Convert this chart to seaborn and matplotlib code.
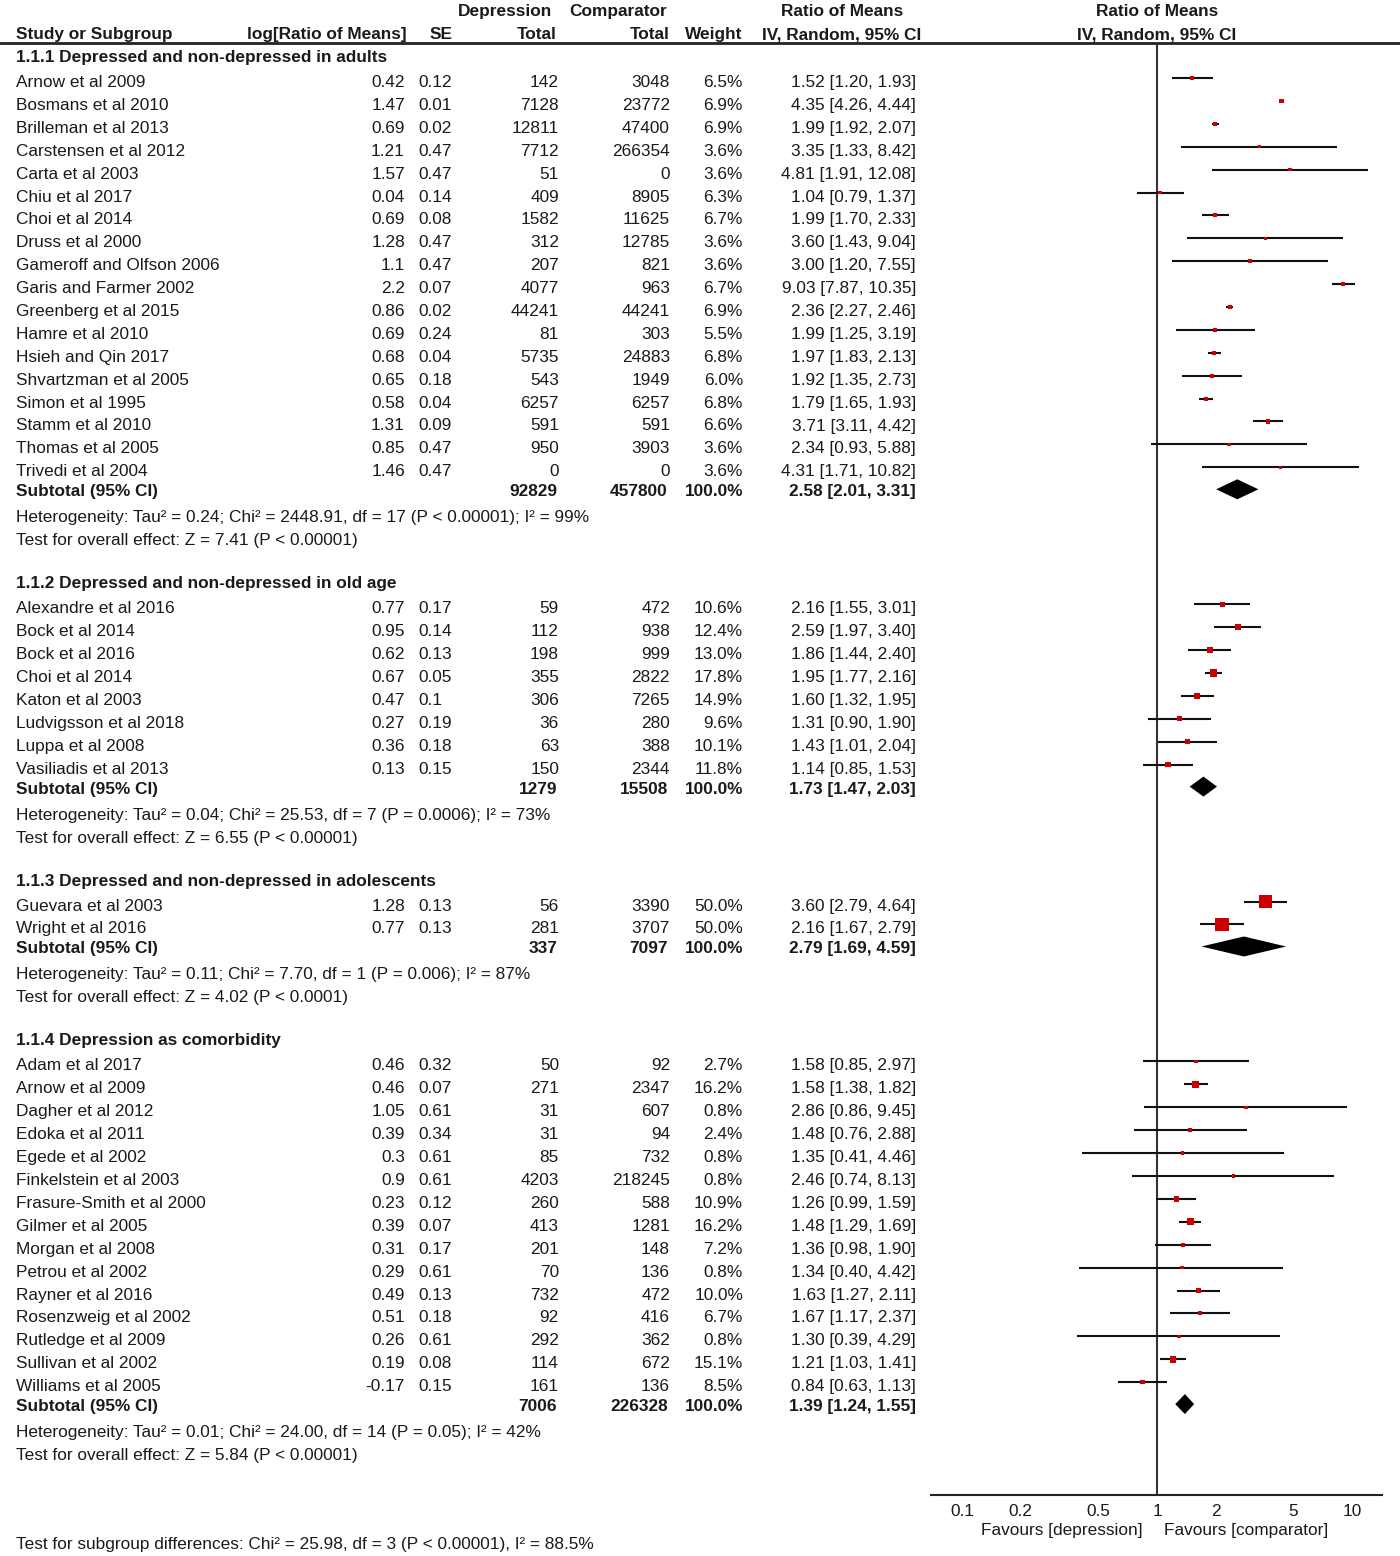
import numpy as np
import pandas as pd
import matplotlib
matplotlib.use("Agg")
import matplotlib.pyplot as plt
import seaborn as sns

# ---- data ----
group_titles = [
    "1.1.1 Depressed and non-depressed in adults",
    "1.1.2 Depressed and non-depressed in old age",
    "1.1.3 Depressed and non-depressed in adolescents",
    "1.1.4 Depression as comorbidity",
]
group_sizes = [18, 8, 2, 15]

studies = [
    "Arnow et al 2009", "Bosmans et al 2010", "Brilleman et al 2013", "Carstensen et al 2012",
    "Carta et al 2003", "Chiu et al 2017", "Choi et al 2014", "Druss et al 2000",
    "Gameroff and Olfson 2006", "Garis and Farmer 2002", "Greenberg et al 2015", "Hamre et al 2010",
    "Hsieh and Qin 2017", "Shvartzman et al 2005", "Simon et al 1995", "Stamm et al 2010",
    "Thomas et al 2005", "Trivedi et al 2004",
    "Alexandre et al 2016", "Bock et al 2014", "Bock et al 2016", "Choi et al 2014",
    "Katon et al 2003", "Ludvigsson et al 2018", "Luppa et al 2008", "Vasiliadis et al 2013",
    "Guevara et al 2003", "Wright et al 2016",
    "Adam et al 2017", "Arnow et al 2009", "Dagher et al 2012", "Edoka et al 2011",
    "Egede et al 2002", "Finkelstein et al 2003", "Frasure-Smith et al 2000", "Gilmer et al 2005",
    "Morgan et al 2008", "Petrou et al 2002", "Rayner et al 2016", "Rosenzweig et al 2002",
    "Rutledge et al 2009", "Sullivan et al 2002", "Williams et al 2005",
]
log_rom = [0.42, 1.47, 0.69, 1.21, 1.57, 0.04, 0.69, 1.28, 1.1, 2.2, 0.86, 0.69, 0.68, 0.65, 0.58, 1.31, 0.85, 1.46,
           0.77, 0.95, 0.62, 0.67, 0.47, 0.27, 0.36, 0.13,
           1.28, 0.77,
           0.46, 0.46, 1.05, 0.39, 0.3, 0.9, 0.23, 0.39, 0.31, 0.29, 0.49, 0.51, 0.26, 0.19, -0.17]
se = [0.12, 0.01, 0.02, 0.47, 0.47, 0.14, 0.08, 0.47, 0.47, 0.07, 0.02, 0.24, 0.04, 0.18, 0.04, 0.09, 0.47, 0.47,
      0.17, 0.14, 0.13, 0.05, 0.1, 0.19, 0.18, 0.15,
      0.13, 0.13,
      0.32, 0.07, 0.61, 0.34, 0.61, 0.61, 0.12, 0.07, 0.17, 0.61, 0.13, 0.18, 0.61, 0.08, 0.15]
n_dep = [142, 7128, 12811, 7712, 51, 409, 1582, 312, 207, 4077, 44241, 81, 5735, 543, 6257, 591, 950, 0,
         59, 112, 198, 355, 306, 36, 63, 150,
         56, 281,
         50, 271, 31, 31, 85, 4203, 260, 413, 201, 70, 732, 92, 292, 114, 161]
n_comp = [3048, 23772, 47400, 266354, 0, 8905, 11625, 12785, 821, 963, 44241, 303, 24883, 1949, 6257, 591, 3903, 0,
          472, 938, 999, 2822, 7265, 280, 388, 2344,
          3390, 3707,
          92, 2347, 607, 94, 732, 218245, 588, 1281, 148, 136, 472, 416, 362, 672, 136]
weight = [6.5, 6.9, 6.9, 3.6, 3.6, 6.3, 6.7, 3.6, 3.6, 6.7, 6.9, 5.5, 6.8, 6.0, 6.8, 6.6, 3.6, 3.6,
          10.6, 12.4, 13.0, 17.8, 14.9, 9.6, 10.1, 11.8,
          50.0, 50.0,
          2.7, 16.2, 0.8, 2.4, 0.8, 0.8, 10.9, 16.2, 7.2, 0.8, 10.0, 6.7, 0.8, 15.1, 8.5]
rom = [1.52, 4.35, 1.99, 3.35, 4.81, 1.04, 1.99, 3.60, 3.00, 9.03, 2.36, 1.99, 1.97, 1.92, 1.79, 3.71, 2.34, 4.31,
       2.16, 2.59, 1.86, 1.95, 1.60, 1.31, 1.43, 1.14,
       3.60, 2.16,
       1.58, 1.58, 2.86, 1.48, 1.35, 2.46, 1.26, 1.48, 1.36, 1.34, 1.63, 1.67, 1.30, 1.21, 0.84]
ci_lo = [1.20, 4.26, 1.92, 1.33, 1.91, 0.79, 1.70, 1.43, 1.20, 7.87, 2.27, 1.25, 1.83, 1.35, 1.65, 3.11, 0.93, 1.71,
         1.55, 1.97, 1.44, 1.77, 1.32, 0.90, 1.01, 0.85,
         2.79, 1.67,
         0.85, 1.38, 0.86, 0.76, 0.41, 0.74, 0.99, 1.29, 0.98, 0.40, 1.27, 1.17, 0.39, 1.03, 0.63]
ci_hi = [1.93, 4.44, 2.07, 8.42, 12.08, 1.37, 2.33, 9.04, 7.55, 10.35, 2.46, 3.19, 2.13, 2.73, 1.93, 4.42, 5.88, 10.82,
         3.01, 3.40, 2.40, 2.16, 1.95, 1.90, 2.04, 1.53,
         4.64, 2.79,
         2.97, 1.82, 9.45, 2.88, 4.46, 8.13, 1.59, 1.69, 1.90, 4.42, 2.11, 2.37, 4.29, 1.41, 1.13]

sub_n_dep = [92829, 1279, 337, 7006]
sub_n_comp = [457800, 15508, 7097, 226328]
sub_rom = [2.58, 1.73, 2.79, 1.39]
sub_lo = [2.01, 1.47, 1.69, 1.24]
sub_hi = [3.31, 2.03, 4.59, 1.55]
het_texts = [
    "Heterogeneity: Tau² = 0.24; Chi² = 2448.91, df = 17 (P < 0.00001); I² = 99%",
    "Heterogeneity: Tau² = 0.04; Chi² = 25.53, df = 7 (P = 0.0006); I² = 73%",
    "Heterogeneity: Tau² = 0.11; Chi² = 7.70, df = 1 (P = 0.006); I² = 87%",
    "Heterogeneity: Tau² = 0.01; Chi² = 24.00, df = 14 (P = 0.05); I² = 42%",
]
effect_texts = [
    "Test for overall effect: Z = 7.41 (P < 0.00001)",
    "Test for overall effect: Z = 6.55 (P < 0.00001)",
    "Test for overall effect: Z = 4.02 (P < 0.0001)",
    "Test for overall effect: Z = 5.84 (P < 0.00001)",
]
subgroup_test = "Test for subgroup differences: Chi² = 25.98, df = 3 (P < 0.00001), I² = 88.5%"
xticks = [0.1, 0.2, 0.5, 1, 2, 5, 10]
xtick_labels = ["0.1", "0.2", "0.5", "1", "2", "5", "10"]

# ---- look ----
W, H = 1400, 1556
FS = 12.4
TXT = "#1a1a1a"
RED = "#cc0000"


def main():
    sns.set_style("white")
    plt.rcParams["font.family"] = ["Liberation Sans", "DejaVu Sans"]

    fig = plt.figure(figsize=(W / 100, H / 100), dpi=100)

    # text layer in pixel coordinates
    tax = fig.add_axes([0, 0, 1, 1])
    tax.set_xlim(0, W)
    tax.set_ylim(H, 0)
    tax.axis("off")

    # forest panel
    top, bottom, left, right = 43, 1495, 931, 1382
    fax = fig.add_axes([left / W, 1 - bottom / H, (right - left) / W, (bottom - top) / H])
    fax.patch.set_alpha(0)
    fax.set_xscale("log")
    fax.set_xlim(0.0693, 14.25)
    fax.set_ylim(bottom, top)

    def txt(x, y, s, ha="left", bold=False):
        # small nudge: text sits a touch lower than the row centre
        tax.text(x, y + 1.5, s, ha=ha, va="center", fontsize=FS, color=TXT,
                 fontweight="bold" if bold else "normal")

    # headers
    txt(505, 10, "Depression", "center", True)
    txt(618, 10, "Comparator", "center", True)
    txt(842, 10, "Ratio of Means", "center", True)
    txt(1157, 10, "Ratio of Means", "center", True)
    txt(16, 33, "Study or Subgroup", "left", True)
    txt(407, 33, "log[Ratio of Means]", "right", True)
    txt(453, 33, "SE", "right", True)
    txt(557, 33, "Total", "right", True)
    txt(670, 33, "Total", "right", True)
    txt(742, 33, "Weight", "right", True)
    txt(842, 33, "IV, Random, 95% CI", "center", True)
    txt(1157, 33, "IV, Random, 95% CI", "center", True)
    tax.axhline(43, color="#222222", lw=2)

    # row layout
    rows = []
    y = 56
    start = 0
    sub_y = []
    for g, n in enumerate(group_sizes):
        txt(16, y, group_titles[g], bold=True)
        y += 25
        for i in range(start, start + n):
            rows.append(y)
            txt(16, y, studies[i])
            txt(405, y, f"{log_rom[i]:g}", "right")
            txt(418, y, f"{se[i]:g}")
            txt(559, y, str(n_dep[i]), "right")
            txt(670, y, str(n_comp[i]), "right")
            txt(743, y, f"{weight[i]:.1f}%", "right")
            txt(916, y, f"{rom[i]:.2f} [{ci_lo[i]:.2f}, {ci_hi[i]:.2f}]", "right")
            y += 22.9
        start += n
        y += 20 - 22.9
        sub_y.append(y)
        txt(16, y, "Subtotal (95% CI)", bold=True)
        txt(557, y, str(sub_n_dep[g]), "right", True)
        txt(668, y, str(sub_n_comp[g]), "right", True)
        txt(743, y, "100.0%", "right", True)
        txt(916, y, f"{sub_rom[g]:.2f} [{sub_lo[g]:.2f}, {sub_hi[g]:.2f}]", "right", True)
        y += 26
        txt(16, y, het_texts[g])
        y += 23
        txt(16, y, effect_texts[g])
        y += 43

    txt(16, 1543, subgroup_test)

    df = pd.DataFrame({"rom": rom, "lo": ci_lo, "hi": ci_hi, "w": weight,
                       "y": np.array(rows) - 3})

    # no-effect line
    fax.axvline(1, color="#333333", lw=1.5, zorder=1)

    # confidence intervals and weighted squares
    fax.hlines(df["y"], df["lo"], df["hi"], color="#111111", lw=1.5, zorder=2)
    side_px = {w: max(3.5, 1.3 * w ** 0.6) for w in df["w"].unique()}
    sizes = {w: (s * 0.72) ** 2 for w, s in side_px.items()}
    sns.scatterplot(data=df, x="rom", y="y", size="w", sizes=sizes, marker="s",
                    color=RED, linewidth=0, legend=False, ax=fax, zorder=3)

    # pooled diamonds
    for g in range(len(group_sizes)):
        yc = sub_y[g] - 1
        fax.fill([sub_lo[g], sub_rom[g], sub_hi[g], sub_rom[g]],
                 [yc, yc - 10, yc, yc + 10], color="black", lw=0, zorder=3)

    # axis
    for s in ["top", "left", "right"]:
        fax.spines[s].set_visible(False)
    fax.spines["bottom"].set_color("#222222")
    fax.spines["bottom"].set_linewidth(1.5)
    fax.set_xticks(xticks)
    fax.set_xticklabels(xtick_labels)
    fax.minorticks_off()
    fax.set_yticks([])
    fax.tick_params(axis="x", direction="inout", length=10, width=1.3, color="#222222",
                    labelsize=FS, labelcolor=TXT, pad=1.5)
    fax.set_xlabel("")
    fax.set_ylabel("")
    txt(1143, 1529, "Favours [depression]", "right")
    txt(1164, 1529, "Favours [comparator]", "left")

    fig.savefig("out.png", dpi=100)


if __name__ == "__main__":
    main()
